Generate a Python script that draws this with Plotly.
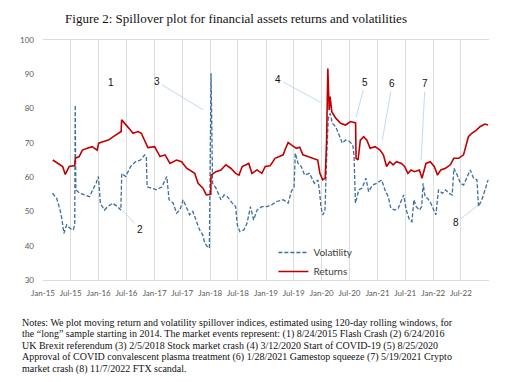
import plotly.graph_objects as go

# ---------------- data ----------------
ret_dates = ['2015-03-06','2015-04-07','2015-05-10','2015-05-27','2015-06-22','2015-07-28','2015-08-01',
 '2015-08-26','2015-09-16','2015-10-18','2015-11-19','2015-12-22','2016-01-01','2016-02-02','2016-03-05',
 '2016-04-06','2016-05-09','2016-05-27','2016-05-30','2016-06-20','2016-07-16','2016-08-13','2016-09-15',
 '2016-10-06','2016-10-27','2016-11-18','2017-01-01','2017-02-06','2017-03-11','2017-04-12','2017-05-25',
 '2017-06-27','2017-07-30','2017-08-31','2017-09-21','2017-10-13','2017-11-14','2017-12-06','2018-01-04',
 '2018-01-06','2018-02-07','2018-03-12','2018-04-13','2018-05-15','2018-06-16','2018-07-08','2018-07-29',
 '2018-09-10','2018-10-01','2018-11-03','2018-12-05','2018-12-27','2019-01-28','2019-03-01','2019-04-03',
 '2019-04-24','2019-05-05','2019-05-26','2019-06-16','2019-07-19','2019-08-10','2019-08-31','2019-10-02',
 '2019-11-03','2019-12-06','2019-12-20','2020-01-07','2020-01-24','2020-02-02','2020-02-10','2020-02-19',
 '2020-02-25','2020-03-07','2020-04-02','2020-05-04','2020-06-05','2020-07-08','2020-08-10','2020-08-13',
 '2020-08-26','2020-09-10','2020-10-02','2020-10-23','2020-11-13','2020-12-16','2021-01-17','2021-02-08',
 '2021-03-01','2021-03-22','2021-04-13','2021-05-05','2021-06-06','2021-06-27','2021-07-19','2021-08-09',
 '2021-08-31','2021-10-02','2021-10-19','2021-11-14','2021-12-12','2022-01-07','2022-01-29','2022-02-19',
 '2022-03-22','2022-04-23','2022-05-15','2022-06-16','2022-07-18','2022-08-19','2022-09-10','2022-10-13',
 '2022-11-03','2022-12-05','2022-12-26']
ret_vals = [65.0,64.0,63.1,60.8,63.1,63.4,65.5,
 66.0,67.9,68.4,68.9,67.9,69.9,70.4,70.8,
 71.8,72.8,73.3,76.7,75.7,74.3,72.8,73.3,
 72.8,70.8,68.6,68.9,66.0,66.5,64.0,65.0,
 64.5,62.6,61.6,61.1,58.2,56.8,54.8,55.0,
 60.6,61.6,62.1,63.6,62.6,61.1,60.6,63.1,
 64.0,61.1,62.1,61.1,63.1,63.3,65.5,66.0,
 66.5,67.9,70.1,69.4,68.4,68.7,66.5,66.0,
 65.5,65.0,61.1,59.2,59.7,70.8,91.7,79.6,
 83.5,79.1,77.2,75.7,75.2,76.2,75.8,65.5,
 65.0,70.8,71.8,70.8,68.4,68.9,67.9,66.5,
 63.1,64.5,63.6,64.5,64.0,63.1,61.1,62.1,
 61.6,62.1,59.7,64.0,64.5,63.1,60.6,62.1,
 62.6,63.6,65.5,65.5,66.5,71.8,72.8,73.8,
 74.7,75.5,75.2]

vol_dates = ['2015-03-04','2015-04-01','2015-04-23','2015-05-04','2015-05-18','2015-06-05','2015-06-26',
 '2015-07-18','2015-07-28','2015-07-31','2015-08-04','2015-08-30','2015-10-01','2015-11-02','2015-11-28',
 '2015-12-15','2015-12-30','2016-01-12','2016-02-07','2016-02-29','2016-04-01','2016-05-03','2016-05-25',
 '2016-05-31','2016-06-26','2016-07-28','2016-08-29','2016-10-01','2016-10-28','2016-11-08','2016-11-13',
 '2016-12-15','2017-01-16','2017-02-18','2017-03-22','2017-04-06','2017-05-03','2017-05-25','2017-06-16',
 '2017-07-07','2017-07-29','2017-08-19','2017-09-09','2017-10-01','2017-10-23','2017-11-13','2017-11-24',
 '2017-12-13','2017-12-26','2018-01-06','2018-01-16','2018-02-07','2018-03-12','2018-04-02','2018-04-23',
 '2018-05-25','2018-06-16','2018-06-27','2018-07-14','2018-08-09','2018-08-30','2018-09-21','2018-10-12',
 '2018-11-03','2018-12-05','2019-01-06','2019-02-07','2019-03-12','2019-04-24','2019-05-26','2019-06-16',
 '2019-07-04','2019-07-12','2019-07-30','2019-08-20','2019-09-11','2019-10-13','2019-11-14','2019-12-06',
 '2019-12-17','2019-12-27','2020-01-07','2020-01-22','2020-02-02','2020-02-13','2020-02-25','2020-03-11',
 '2020-04-02','2020-04-24','2020-05-15','2020-06-05','2020-07-01','2020-07-23','2020-07-31','2020-08-09',
 '2020-08-31','2020-09-21','2020-10-17','2020-11-03','2020-11-29','2020-12-27','2021-01-28','2021-02-18',
 '2021-03-12','2021-03-29','2021-04-24','2021-05-16','2021-06-06','2021-06-21','2021-07-08','2021-07-29',
 '2021-08-14','2021-08-27','2021-09-11','2021-10-02','2021-10-17','2021-10-26','2021-11-08','2021-11-25',
 '2021-12-16','2022-01-03','2022-01-18','2022-02-04','2022-03-02','2022-03-23','2022-04-13','2022-05-05',
 '2022-05-16','2022-06-07','2022-06-28','2022-07-19','2022-08-10','2022-08-31','2022-09-22','2022-10-14',
 '2022-10-24','2022-11-15','2022-12-06','2022-12-26']
vol_vals = [55.3,53.8,50.4,48.0,43.6,46.1,45.1,
 44.6,46.1,81.0,56.3,55.3,54.8,54.3,56.8,
 58.2,60.2,52.4,50.4,51.4,52.4,51.4,50.4,
 61.1,60.2,63.1,64.5,65.0,66.5,66.0,57.2,
 56.8,56.3,57.2,60.2,53.4,52.4,49.5,50.4,
 53.4,51.4,49.0,50.0,47.0,44.6,43.1,41.0,
 39.7,39.3,90.3,58.2,56.8,53.4,54.8,54.3,
 52.4,51.4,46.1,44.1,44.6,46.6,51.4,47.5,
 50.4,51.4,51.4,51.9,52.9,53.4,52.4,55.8,
 57.2,67.0,64.0,63.1,60.6,61.1,58.2,59.2,
 56.3,51.4,49.0,50.0,65.0,77.2,78.6,75.7,
 74.7,72.3,69.9,70.8,70.4,69.4,66.0,52.4,
 56.3,56.8,59.7,55.8,57.7,58.2,59.2,56.3,
 54.3,50.9,50.4,50.9,52.9,54.8,50.4,47.5,
 47.0,53.4,51.4,50.4,51.4,58.2,54.3,53.8,
 52.4,50.4,49.0,56.3,55.3,56.3,55.3,54.8,
 62.6,60.6,58.2,57.7,60.2,62.1,59.7,59.2,
 51.4,53.4,56.3,59.2]

tick_vals = ['2015-01-01','2015-07-01','2016-01-01','2016-07-01','2017-01-01','2017-07-01','2018-01-01',
 '2018-07-01','2019-01-01','2019-07-01','2020-01-01','2020-07-01','2021-01-01','2021-07-01','2022-01-01',
 '2022-07-01','2023-01-01']
tick_text = ['Jan-15','Jul-15','Jan-16','Jul-16','Jan-17','Jul-17','Jan-18','Jul-18','Jan-19','Jul-19',
 'Jan-20','Jul-20','Jan-21','Jul-21','Jan-22','Jul-22','']

# event markers: label, pointed date, pointed value
event_labels = ['2','3','4','5','6','7','8']
event_dates = ['2016-06-03','2017-11-17','2019-12-27','2020-08-13','2021-02-01','2021-10-13','2022-10-24']
event_vals = [50.4,79.6,81.8,77.5,70.8,64.9,51.9]
label1_date, label1_val = '2016-03-21', 87.6

title_text = 'Figure 2: Spillover plot for financial assets returns and volatilities'
notes_lines = [
 'Notes: We plot moving return and volatility spillover indices, estimated using 120-day rolling windows, for',
 'the \u201clong\u201d sample starting in 2014. The market events represent: (1) 8/24/2015 Flash Crash (2) 6/24/2016',
 'UK Brexit referendum (3) 2/5/2018 Stock market crash (4) 3/12/2020 Start of COVID-19 (5) 8/25/2020',
 'Approval of COVID convalescent plasma treatment (6) 1/28/2021 Gamestop squeeze (7) 5/19/2021 Crypto',
 'market crash (8) 11/7/2022 FTX scandal.',
]

# ---------------- layout geometry (screen pixels; page body has an 8px margin) ----------------
OFF = 8
SW, SH = 505, 382
W, H = SW - OFF, SH - OFF
PL, PR, PT, PB = 36, 489, 40, 280          # plot area in screen pixels
L, T = PL - OFF, PT - OFF
R, B = W - (PR - OFF), H - (PB - OFF)
pw, ph = PR - PL, PB - PT

def px_x(p):
    return (p - PL) / pw

def px_y(p):
    return (PB - p) / ph

fig = go.Figure()
fig.add_trace(go.Scatter(x=vol_dates, y=vol_vals, mode='lines', name='Volatility',
                         line=dict(color='#3C6E9E', width=1.3, dash='4px,2px')))
fig.add_trace(go.Scatter(x=ret_dates, y=ret_vals, mode='lines', name='Returns',
                         line=dict(color='#C00000', width=1.6)))

tick_font = dict(family='Lato, Liberation Sans, sans-serif', size=8, color='#595959')
fig.update_xaxes(range=['2015-01-01', '2023-01-01'], tickvals=tick_vals, ticktext=tick_text,
                 showgrid=True, gridcolor='#DCDCDC', gridwidth=1, showline=True, mirror=True,
                 linecolor='#DCDCDC', linewidth=1, ticks='', tickfont=tick_font, ticklabelstandoff=5)
fig.update_yaxes(range=[30, 100], dtick=10, showgrid=False, zeroline=False, showline=False,
                 ticks='', tickfont=tick_font, ticklabelstandoff=8)

arrow_col = '#A8C8E6'
ann = []
label_px = [(134.3, 229), (152.3, 81.7), (275, 79), (363.3, 82.3), (390.7, 83.3), (424, 84), (455.7, 222.7)]
head_px = [(116.7, 210), (199, 110), (318.3, 102.3), (354, 117.3), (380.7, 140), (420, 160.5), (478.3, 205)]
for lab, d, v, lp, hp in zip(event_labels, event_dates, event_vals, label_px, head_px):
    ann.append(dict(x=d, y=v, xref='x', yref='y', text=lab, showarrow=True, arrowhead=0,
                    arrowwidth=0.7, arrowcolor=arrow_col, ax=lp[0] - hp[0], ay=lp[1] - hp[1],
                    font=dict(family='Liberation Sans, sans-serif', size=10, color='#111111'),
                    standoff=0, startstandoff=1))
ann.append(dict(x=label1_date, y=label1_val, xref='x', yref='y', text='1', showarrow=False,
                font=dict(family='Liberation Sans, sans-serif', size=10, color='#111111')))

note_y = [322.7, 334.3, 345.8, 357.2, 368.7]
for line, yy in zip(notes_lines, note_y):
    ann.append(dict(x=px_x(13), y=px_y(yy), xref='paper', yref='paper', text=line, showarrow=False,
                    xanchor='left', yanchor='middle', align='left',
                    font=dict(family='Liberation Serif, serif', size=10, color='#111111')))

fig.update_layout(
    width=W, height=H, margin=dict(l=L, r=R, t=T, b=B),
    paper_bgcolor='white', plot_bgcolor='white',
    title=dict(text=title_text, x=(236 - OFF) / W, xanchor='center', xref='container',
               y=1 - (18.5 - OFF) / H, yanchor='middle', yref='container',
               font=dict(family='Liberation Serif, serif', size=13, color='#111111')),
    legend=dict(x=px_x(270), y=px_y(238), xanchor='left', yanchor='top', bgcolor='rgba(0,0,0,0)',
                font=dict(family='Lato, Liberation Sans, sans-serif', size=10, color='#404040'),
                tracegroupgap=0, itemwidth=30),
    annotations=ann,
    showlegend=True,
)

fig.write_html('out.html')
